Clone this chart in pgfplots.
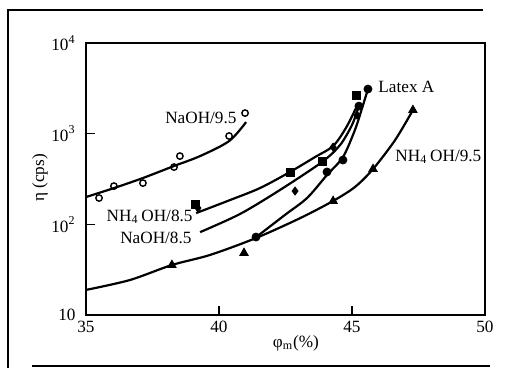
\documentclass[border=0pt]{standalone}
\usepackage{fontspec}
\setmainfont{Liberation Serif}
\usepackage{pgfplots}
\pgfplotsset{compat=1.18}

\begin{document}
\begin{tikzpicture}[font=\fontsize{8.6pt}{10pt}\selectfont]
\useasboundingbox (-43pt,-26.5pt) rectangle (212.5pt,157.5pt);
\begin{axis}[
  at={(0,0)}, anchor=south west,
  scale only axis, width=199.5pt, height=136pt,
  ymode=log, xmin=35, xmax=50, ymin=10, ymax=10000,
  xtick={35,40,45,50}, xticklabels={35,40,45,50},
  ytick={10,100,1000,10000},
  yticklabels={10,10\textsuperscript{2},10\textsuperscript{3},10\textsuperscript{4}},
  tick align=inside, tick pos=left,
  major tick length=4.5pt, minor tick length=0pt,
  axis line style={line width=1pt},
  every tick/.style={black, line width=0.8pt},
  xticklabel style={inner sep=0pt, yshift=-3pt},
  yticklabel style={inner sep=0pt, xshift=-5pt},
  xlabel={φ\textsubscript{m}(\%)},
  xlabel style={at={(axis description cs:0.526,-0.103)}, anchor=center},
  ylabel={η (cps)},
  ylabel style={at={(axis description cs:-0.115,0.504)}, anchor=center, rotate=0},
  clip=false,
]
% fitted curves
\addplot[black, line width=1.1pt, smooth] coordinates {
  (35.00,200) (36.05,251) (37.14,324) (38.31,440) (39.29,566) (40.38,828) (41.02,1343)};
\addplot[black, line width=1.1pt, smooth] coordinates {
  (35.00,18.9) (36.65,24.3) (38.23,35.6) (39.66,45.9) (41.39,70.6) (43.05,117)
  (44.29,181) (45.11,258) (45.79,407) (46.62,849) (47.29,1820)};
\addplot[black, line width=1.1pt, smooth] coordinates {
  (41.39,72) (42.48,127) (43.31,195) (44.06,350) (44.66,552) (45.11,1097) (45.38,1915) (45.60,3105)};
\addplot[black, line width=1.1pt, smooth] coordinates {
  (39.14,133) (40.41,185) (41.54,251) (42.67,378) (43.61,552) (44.29,730) (44.77,1153) (45.15,1915)};
\addplot[black, line width=1.1pt, smooth] coordinates {
  (39.29,82) (40.79,130) (42.29,239) (43.87,486) (44.55,748) (45.00,1245) (45.23,1915)};

% measured points
\addplot[only marks, mark=o, mark size=1.6pt, mark options={black, line width=0.7pt}] coordinates {
  (35.49,195) (36.05,264) (37.14,285) (38.31,428) (38.53,566) (40.38,942) (40.98,1686)};
\addplot[only marks, mark=*, mark size=2pt, mark options={black}] coordinates {
  (41.39,72.4) (44.06,378) (44.66,512) (45.26,2014) (45.60,3105)};
\addplot[only marks, mark=square*, mark size=2pt, mark options={black}] coordinates {
  (39.10,167) (42.67,378) (43.87,499) (45.15,2667)};
\addplot[only marks, mark=diamond*, mark size=2pt, mark options={black}] coordinates {
  (39.21,151) (42.86,233) (44.29,711) (45.19,1603)};
\addplot[only marks, mark=triangle*, mark size=2.4pt, mark options={black}] coordinates {
  (38.23,35.6) (40.94,48.3) (44.29,181) (45.79,407) (47.29,1820)};

% curve labels
\node[anchor=center] at (axis cs:39.32,1486) {NaOH/9.5};
\node[anchor=west, inner sep=0pt] at (axis cs:45.98,3266) {Latex A};
\node[anchor=west, inner sep=0pt] at (axis cs:46.62,552) {NH\textsubscript{4}\,OH/9.5};
\node[anchor=east, inner sep=0pt] at (axis cs:39.02,120) {NH\textsubscript{4}\,OH/8.5};
\node[anchor=east, inner sep=0pt] at (axis cs:38.98,70.6) {NaOH/8.5};
\end{axis}
% surrounding frame rules
\draw[line width=1pt] (198.5pt,152.5pt) -- (-39pt,152.5pt) -- (-39pt,-26.5pt);
\draw[line width=1pt] (-27pt,-25.5pt) -- (202pt,-25.5pt);
\end{tikzpicture}
\end{document}
